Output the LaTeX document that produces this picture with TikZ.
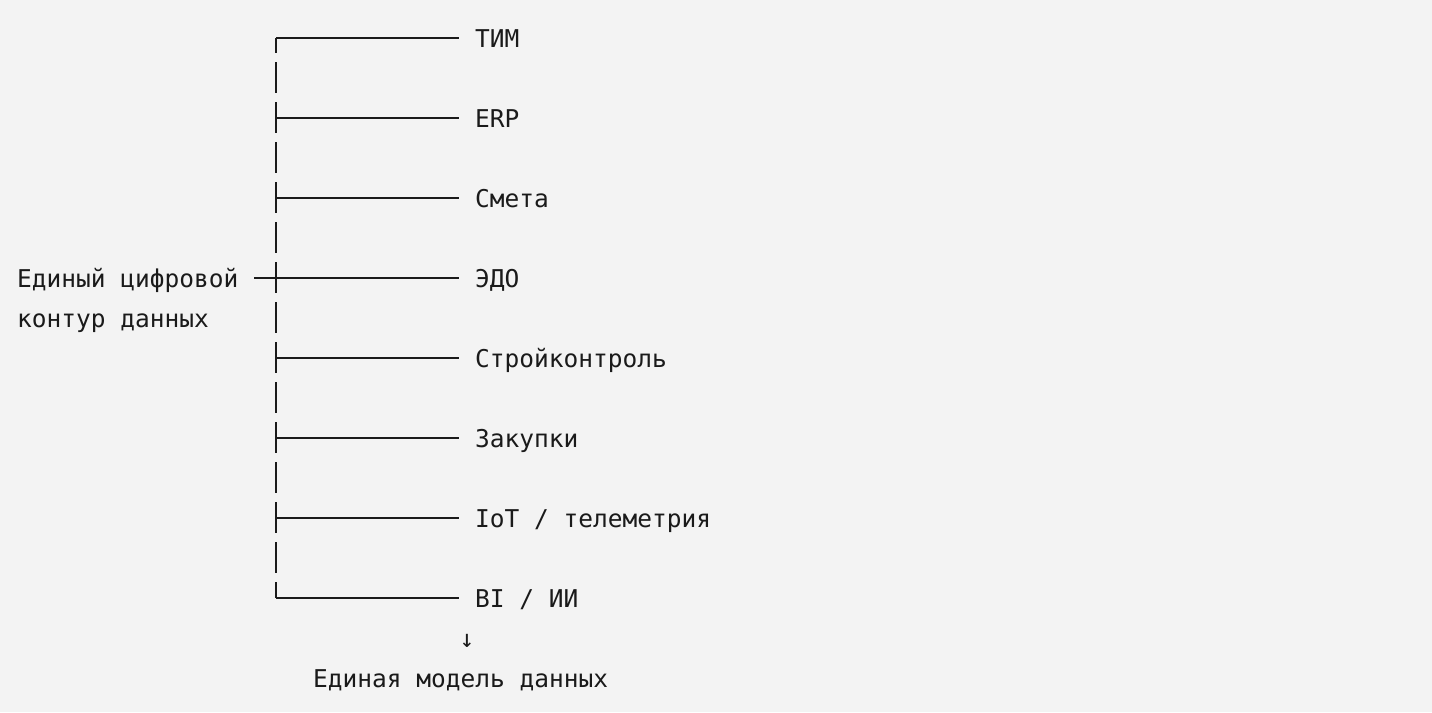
\documentclass[tikz,border=0pt]{standalone}
\usepackage{fontspec}
\setmonofont{DejaVu Sans Mono}
\definecolor{bg}{HTML}{F3F3F3}
\definecolor{ink}{HTML}{1A1A1A}
\begin{document}
\begin{tikzpicture}[x=1pt,y=-1pt,
  lbl/.style={font=\ttfamily\fontsize{24.5}{30}\selectfont, text=ink, inner sep=0pt, anchor=base west},
  ln/.style={draw=ink, line width=1.9pt}]
\fill[bg] (0,0) rectangle (1432,712);
\useasboundingbox (0,0) rectangle (1432,712);
% left label
\node[lbl] (l1) at (17,287) {Единый цифровой};
\node[lbl] (l2) at (17,327) {контур данных};
% items
\node[lbl] (t0) at (475,47)  {ТИМ};
\node[lbl] (t1) at (475,127) {ERP};
\node[lbl] (t2) at (475,207) {Смета};
\node[lbl] (t3) at (475,287) {ЭДО};
\node[lbl] (t4) at (475,367) {Стройконтроль};
\node[lbl] (t5) at (475,447) {Закупки};
\node[lbl] (t6) at (475,527) {IoT / телеметрия};
\node[lbl] (t7) at (475,607) {BI / ИИ};
\foreach \i in {0,...,7}{
  \coordinate (b\i) at (276,{38+80*\i});
  \draw[ln] (b\i) -- (b\i -| 459,0);
}
% trunk pieces (one per text line)
\draw[ln] (b0) -- ++(0,15);
\foreach \k in {1,...,13}{
  \draw[ln] (276,{38+40*\k-16}) -- (276,{38+40*\k+15});
}
\draw[ln] (b7) -- ++(0,-16);
% root stub
\coordinate (r) at (254,278);
\draw[ln] (r) -- (b3);
% bottom
\node[lbl, anchor=base] (ar) at (467,647) {↓};
\node[lbl] (m) at (313,687) {Единая модель данных};
\end{tikzpicture}
\end{document}
